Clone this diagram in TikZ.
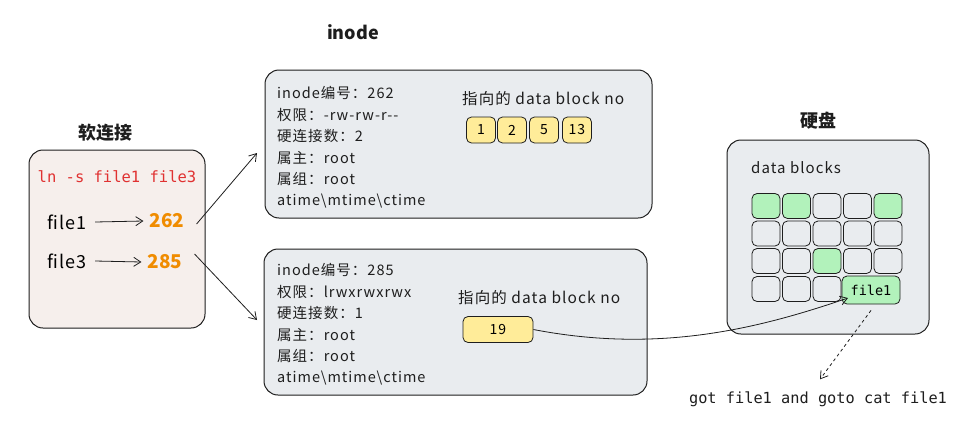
\documentclass[tikz,border=0pt]{standalone}
\usepackage{fontspec}
\setmainfont[LetterSpace=7]{Noto Sans CJK SC}
\newfontfamily\titlefont{Noto Sans CJK SC}
\newfontfamily\codefont{DejaVu Sans Mono}
\usetikzlibrary{arrows.meta,positioning}
\definecolor{linkpink}{HTML}{F6EFEC}
\definecolor{boxgray}{HTML}{E9ECEF}
\definecolor{blockyellow}{HTML}{FFEC99}
\definecolor{blockgreen}{HTML}{B2F2BB}
\definecolor{cmdred}{HTML}{E03131}
\definecolor{numorange}{HTML}{F08C00}
\definecolor{inkdark}{HTML}{1E1E1E}

\begin{document}
\begin{tikzpicture}[x=1pt,y=-1pt,
    panel/.style={draw=inkdark,line width=1pt,rounded corners=14pt,inner sep=0pt},
    infoline/.style={anchor=west,inner sep=0pt,text=inkdark,font=\fontsize{14.5}{16}\selectfont},
    title/.style={inner sep=0pt,text=inkdark,font=\titlefont\fontsize{18}{20}\selectfont\bfseries},
    blk/.style={draw=inkdark,line width=0.8pt,fill=blockyellow,rounded corners=5pt,
      minimum height=26pt,inner sep=0pt,font=\fontsize{14}{16}\selectfont},
    cell/.style={draw=inkdark,line width=0.8pt,rounded corners=5pt,
      minimum width=28pt,minimum height=25pt,inner sep=0pt},
    arr/.style={-{Straight Barb[length=7pt,width=9pt]},line width=0.8pt,draw=inkdark}]
    \fill[white] (0,0) rectangle (973,423);
    \useasboundingbox (0,0) rectangle (973,423);

    % soft link
    \node[title] (linktitle) at (105,133) {软连接};
    \node[panel,fill=linkpink,minimum width=176pt,minimum height=178pt] (linkbox) at (117,239) {};
    \node[inner sep=0pt,text=cmdred,font=\codefont\fontsize{15.5}{17}\selectfont] (cmd) at (117,177) {ln -s file1 file3};
    \node[inner sep=0pt,font=\fontsize{18}{20}\selectfont] (fA) at (67,222) {file1};
    \node[inner sep=0pt,font=\fontsize{18}{20}\selectfont] (fB) at (67,261) {file3};
    \node[inner sep=0pt,text=numorange,font=\titlefont\fontsize{19}{21}\selectfont\bfseries] (numA) at (167,221) {262};
    \node[inner sep=0pt,text=numorange,font=\titlefont\fontsize{19}{21}\selectfont\bfseries] (numB) at (165,262) {285};
    \draw[arr] ([xshift=8pt]fA.east) -- ([xshift=-6pt]numA.west);
    \draw[arr] ([xshift=8pt]fB.east) -- ([xshift=-6pt]numB.west);

    % inodes
    \node[title] (inodetitle) at (353,32) {inode};
    \node[panel,fill=boxgray,minimum width=387pt,minimum height=148pt] (inodeA) at (458.5,144) {};
    \node[panel,fill=boxgray,minimum width=383pt,minimum height=146pt] (inodeB) at (455.5,322) {};
    \foreach \t [count=\i] in {inode编号：262,权限：-rw-rw-r{-}{-},硬连接数：2,属主：root,属组：root,atime\textbackslash mtime\textbackslash ctime}
      \node[infoline] (la\i) at (277,{93+21.6*(\i-1)}) {\t};
    \foreach \t [count=\i] in {inode编号：285,权限：lrwxrwxrwx,硬连接数：1,属主：root,属组：root,atime\textbackslash mtime\textbackslash ctime}
      \node[infoline] (lb\i) at (277,{270+21.6*(\i-1)}) {\t};
    \node[infoline,font=\fontsize{15.5}{17}\selectfont] (ptrA) at (462,99) {指向的 data block no};
    \node[infoline,font=\fontsize{15.5}{17}\selectfont] (ptrB) at (458,298) {指向的 data block no};
    \foreach \n/\x in {1/481,2/512,5/544,13/577}
      \node[blk,minimum width=29pt] (bA\n) at (\x,130) {\n};
    \node[blk,minimum width=70pt] (bB19) at (498,329.5) {19};

    \coordinate (toA) at (257,153);
    \coordinate (toB) at (257,320);
    \draw[arr] ([xshift=12pt,yshift=-3pt]numA.east) -- (toA);
    \draw[arr] ([xshift=12pt,yshift=8pt]numB.east) -- (toB);

    % disk
    \node[title] (disktitle) at (818,121) {硬盘};
    \node[panel,fill=boxgray,minimum width=202pt,minimum height=194pt] (disk) at (828,237) {};
    \node[infoline,font=\fontsize{15}{17}\selectfont] (dlabel) at (751,168) {data blocks};
    \foreach \r in {1,2,3}
      \foreach \c in {1,...,5} {
        \pgfmathtruncatemacro\isg{(\r==1 && (\c==1 || \c==2 || \c==5)) || (\r==3 && \c==3)}
        \ifnum\isg=1 \def\cellfill{blockgreen}\else\def\cellfill{boxgray}\fi
        \node[cell,fill=\cellfill] (cell\r\c) at ({766+30.5*(\c-1)},{206+27.5*(\r-1)}) {};
      }
    \foreach \c in {1,2,3}
      \node[cell,fill=boxgray] (cell4\c) at ({766+30.5*(\c-1)},289) {};
    \node[cell,fill=blockgreen,minimum width=58pt,minimum height=28pt,
      font=\codefont\fontsize{13.5}{15}\selectfont] (fileblk) at (871,290) {file1};

    \coordinate (hit) at (848,298);
    \draw[arr] (bB19.east) .. controls (660,354) and (760,328) .. (hit);

    \node[inner sep=0pt,text=inkdark,font=\codefont\fontsize{15.3}{17}\selectfont] (note) at (818,399) {got file1 and goto cat file1};
    \draw[arr,dashed] ([yshift=-6pt]fileblk.south) -- ([xshift=2pt,yshift=12pt]note.north);
\end{tikzpicture}
\end{document}
